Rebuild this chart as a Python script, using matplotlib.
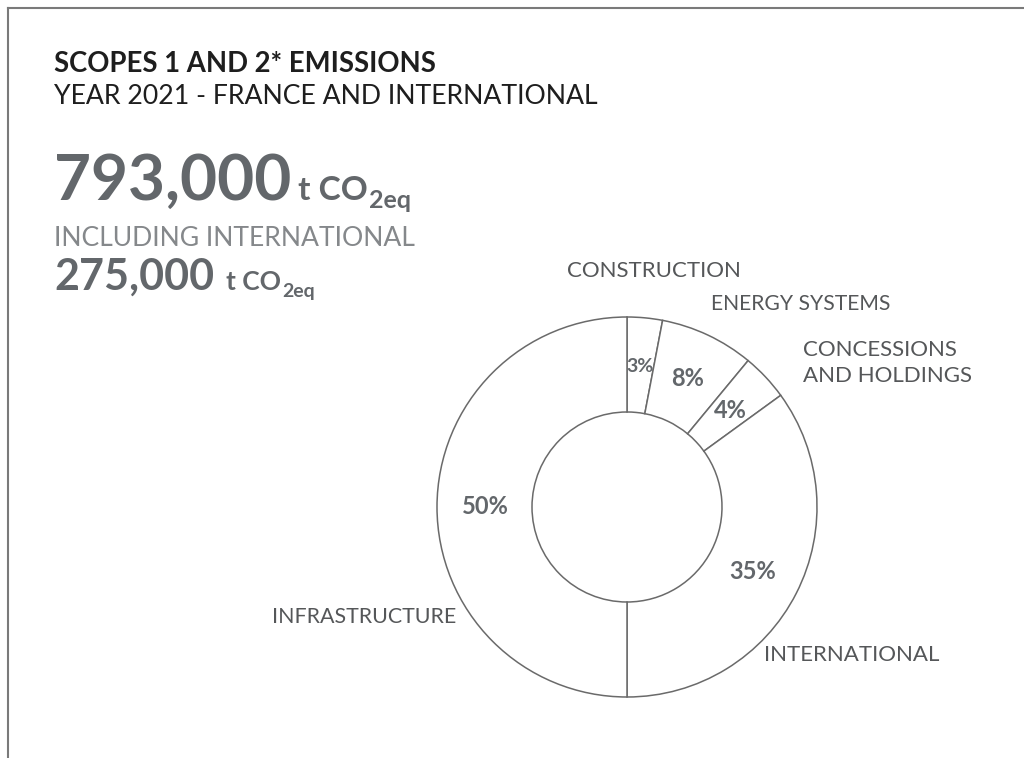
import matplotlib
matplotlib.use("Agg")
import matplotlib.pyplot as plt
from matplotlib.lines import Line2D

# ---- data ----
segments = ["CONSTRUCTION", "ENERGY SYSTEMS", "CONCESSIONS\nAND HOLDINGS", "INTERNATIONAL", "INFRASTRUCTURE"]
shares = [3, 8, 4, 35, 50]
title = "SCOPES 1 AND 2* EMISSIONS"
subtitle = "YEAR 2021 - FRANCE AND INTERNATIONAL"
total_value = "793,000"
intl_label = "INCLUDING INTERNATIONAL"
intl_value = "275,000"

W, H = 1024, 758
plt.rcParams['font.family'] = ['Lato', 'DejaVu Sans']

fig = plt.figure(figsize=(W / 100, H / 100), dpi=100)
fig.patch.set_facecolor('white')
ax = fig.add_axes([0, 0, 1, 1])

DARK = '#1e1e1e'
GREY = '#63676b'
LIGHT = '#85888b'
LAB = '#555759'
EDGE = '#6a6a6a'

def Y(ypx):
    return H - ypx

wedges, _, autotexts = ax.pie(
    shares, startangle=90, counterclock=False, radius=190, center=(627, Y(507)),
    colors=['white'] * len(shares),
    wedgeprops=dict(width=95, edgecolor=EDGE, linewidth=1.1),
    autopct=lambda p: f"{p:.0f}%", pctdistance=0.745,
    textprops=dict(color=GREY, fontsize=17, fontweight='bold'))
autotexts[0].set_fontsize(14)

ax.set_xlim(0, W)
ax.set_ylim(0, H)
ax.set_aspect('equal')
ax.axis('off')

# outer labels (multi-line labels split into one text per line)
label_pos = [(567, 277), (711, 310), (803, 356), (764, 661), (272, 623)]
label_size = [16, 15.2, 16, 16, 15.4]
for name, (lx, ly), fs in zip(segments, label_pos, label_size):
    for i, line in enumerate(name.split('\n')):
        ax.text(lx, Y(ly + 26 * i), line, fontsize=fs, color=LAB,
                ha='left', va='baseline')

# header
ax.text(54, Y(72), title, fontsize=19.8, fontweight='bold', color=DARK, va='baseline')
ax.text(54, Y(104), subtitle, fontsize=19.2, color=DARK, va='baseline')

fig.canvas.draw()
renderer = fig.canvas.get_renderer()

def run(x, ybase, parts):
    for s, size, weight, color, dy, gap in parts:
        x += gap
        t = ax.text(x, Y(ybase + dy), s, fontsize=size, fontweight=weight,
                    color=color, va='baseline', ha='left')
        bb = t.get_window_extent(renderer)
        x += bb.width

run(54, 200, [(total_value, 46, 'bold', GREY, 0, 0),
              ("t CO", 24, 'bold', GREY, 0, 7),
              ("2eq", 18, 'bold', GREY, 8, 1)])
ax.text(54, Y(246), intl_label, fontsize=19.1, color=LIGHT, va='baseline')
run(54, 290, [(intl_value, 31, 'bold', GREY, 0, 0),
              ("t CO", 19, 'bold', GREY, 0, 12),
              ("2eq", 14, 'bold', GREY, 7, 1)])

# frame
fig.add_artist(Line2D([8 / W, 1], [1 - 8 / H, 1 - 8 / H], transform=fig.transFigure,
                      color='#7a7a7a', lw=1.5))
fig.add_artist(Line2D([8 / W, 8 / W], [0, 1 - 8 / H], transform=fig.transFigure,
                      color='#7a7a7a', lw=1.5))

fig.savefig("out.png", dpi=100, facecolor='white')
